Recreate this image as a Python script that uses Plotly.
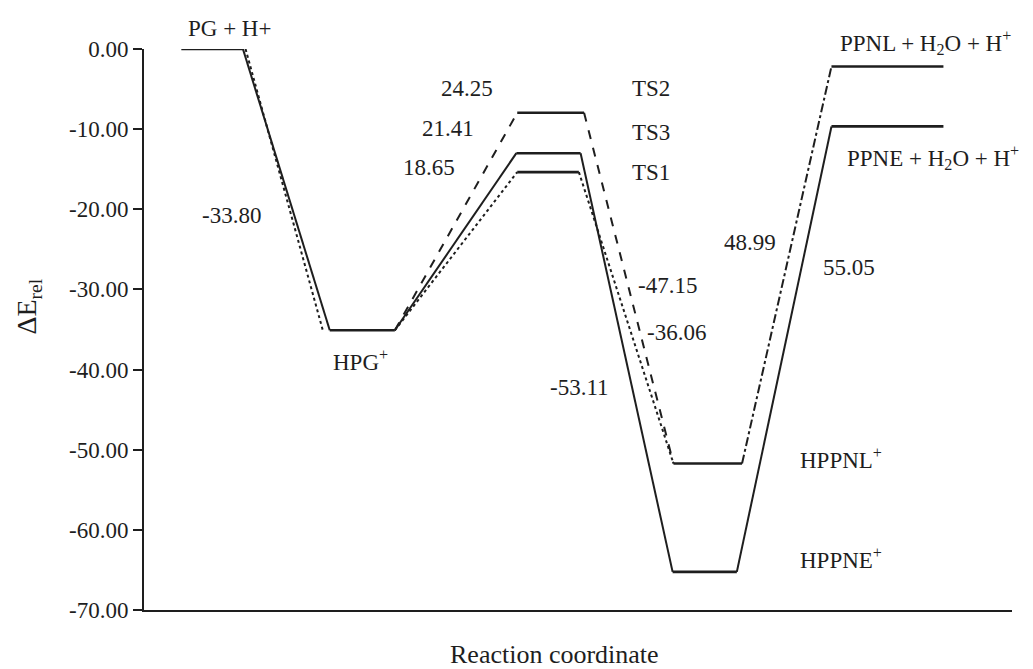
import plotly.graph_objects as go

# ---------------- data ----------------
states = ["PG", "HPG", "TS2", "TS3", "TS1", "HPPNL", "HPPNE", "PPNL", "PPNE"]
energies = [0.0, -35.10, -7.96, -13.00, -15.36, -51.72, -65.24, -2.18, -9.66]
# reaction-coordinate extent of each level
coord_start = [0.43, 2.14, 4.30, 4.29, 4.30, 6.10, 6.09, 7.92, 7.92]
coord_end = [1.14, 2.89, 5.07, 5.03, 5.01, 6.89, 6.83, 9.21, 9.21]

# connections between states: (from, to, line style)
paths_from = ["PG", "PG", "HPG", "HPG", "HPG", "TS3", "TS2", "TS1", "HPPNL", "HPPNE"]
paths_to = ["HPG", "HPG", "TS3", "TS2", "TS1", "HPPNE", "HPPNL", "HPPNL", "PPNL", "PPNE"]
paths_dash = ["solid", "dot", "solid", "dash", "dot", "solid", "dash", "dot", "dashdot", "solid"]

state_labels = ["PG + H+", "HPG<sup>+</sup>", "TS2", "TS3", "TS1",
                "HPPNL<sup>+</sup>", "HPPNE<sup>+</sup>",
                "PPNL + H<sub>2</sub>O + H<sup>+</sup>",
                "PPNE + H<sub>2</sub>O + H<sup>+</sup>"]
value_labels = ["-33.80", "24.25", "21.41", "18.65", "-47.15", "-36.06", "-53.11", "48.99", "55.05"]

y_ticks = [0, -10, -20, -30, -40, -50, -60, -70]
y_ticktext = [f"{v:.2f}" for v in y_ticks]

# ---------------- drawing ----------------
INK = "#1e1e1e"
FONT = "Liberation Serif"
Y_MIN, Y_MAX = -70, 0
X_MIN, X_MAX = 0, 10
idx = {s: i for i, s in enumerate(states)}

fig = go.Figure()

# connectors
for f, t, d in zip(paths_from, paths_to, paths_dash):
    i, j = idx[f], idx[t]
    x0, x1 = coord_end[i], coord_start[j]
    if d == "dot" and f == "PG":
        x0 += 0.03
        x1 -= 0.08
    fig.add_trace(go.Scatter(x=[x0, x1], y=[energies[i], energies[j]], mode="lines",
                             line=dict(color=INK, width=2, dash=d),
                             hoverinfo="skip", showlegend=False))

# energy levels
for i, s in enumerate(states):
    fig.add_trace(go.Scatter(x=[coord_start[i], coord_end[i]], y=[energies[i], energies[i]],
                             mode="lines", line=dict(color=INK, width=2.6),
                             hoverinfo="skip", showlegend=False))

# label placement (reaction coordinate, energy, anchor)
state_pos = [(0.98, 2.6, "center"), (2.49, -38.9, "center"), (5.60, -4.93, "left"),
             (5.60, -10.41, "left"), (5.60, -15.4, "left"), (7.53, -51.06, "left"),
             (7.53, -63.53, "left"), (8.0, 0.8, "left"), (8.08, -13.6, "left")]
value_pos = [(1.01, -20.76), (3.72, -4.93), (3.50, -9.91), (3.28, -14.78),
             (6.03, -29.49), (6.13, -35.35), (5.02, -42.21), (6.98, -24.13), (8.12, -27.25)]


def px(x):
    return (x - X_MIN) / (X_MAX - X_MIN)


def py(y):
    return (y - Y_MIN) / (Y_MAX - Y_MIN)


annotations = []
for txt, (x, y, anc) in zip(state_labels, state_pos):
    annotations.append(dict(xref="paper", yref="paper", x=px(x), y=py(y), text=txt,
                            xanchor=anc, yanchor="middle", showarrow=False,
                            font=dict(family=FONT, size=23, color=INK)))
for txt, (x, y) in zip(value_labels, value_pos):
    annotations.append(dict(xref="paper", yref="paper", x=px(x), y=py(y), text=txt,
                            xanchor="center", yanchor="middle", showarrow=False,
                            font=dict(family=FONT, size=23, color=INK)))

annotations.append(dict(xref="paper", yref="paper", x=0.4735, y=-0.080,
                        text="Reaction coordinate", showarrow=False,
                        xanchor="center", yanchor="middle",
                        font=dict(family=FONT, size=26, color=INK)))
annotations.append(dict(xref="paper", yref="paper", x=-0.133, y=0.540,
                        text="ΔE<sub>rel</sub>", showarrow=False, textangle=-90,
                        xanchor="center", yanchor="middle",
                        font=dict(family=FONT, size=28, color=INK)))

fig.update_layout(
    width=1033, height=669,
    margin=dict(l=144, r=21, t=49, b=59),
    plot_bgcolor="white", paper_bgcolor="white",
    annotations=annotations,
    xaxis=dict(range=[X_MIN, X_MAX], showgrid=False, zeroline=False, showticklabels=False,
               ticks="", showline=True, linecolor=INK, linewidth=2, fixedrange=True),
    yaxis=dict(range=[Y_MIN, Y_MAX], tickvals=y_ticks, ticktext=y_ticktext,
               showgrid=False, zeroline=False, showline=True, linecolor=INK, linewidth=2,
               ticks="outside", ticklen=9, tickwidth=2, tickcolor=INK,
               tickfont=dict(family=FONT, size=23, color=INK), fixedrange=True),
)

fig.write_html("out.html")
